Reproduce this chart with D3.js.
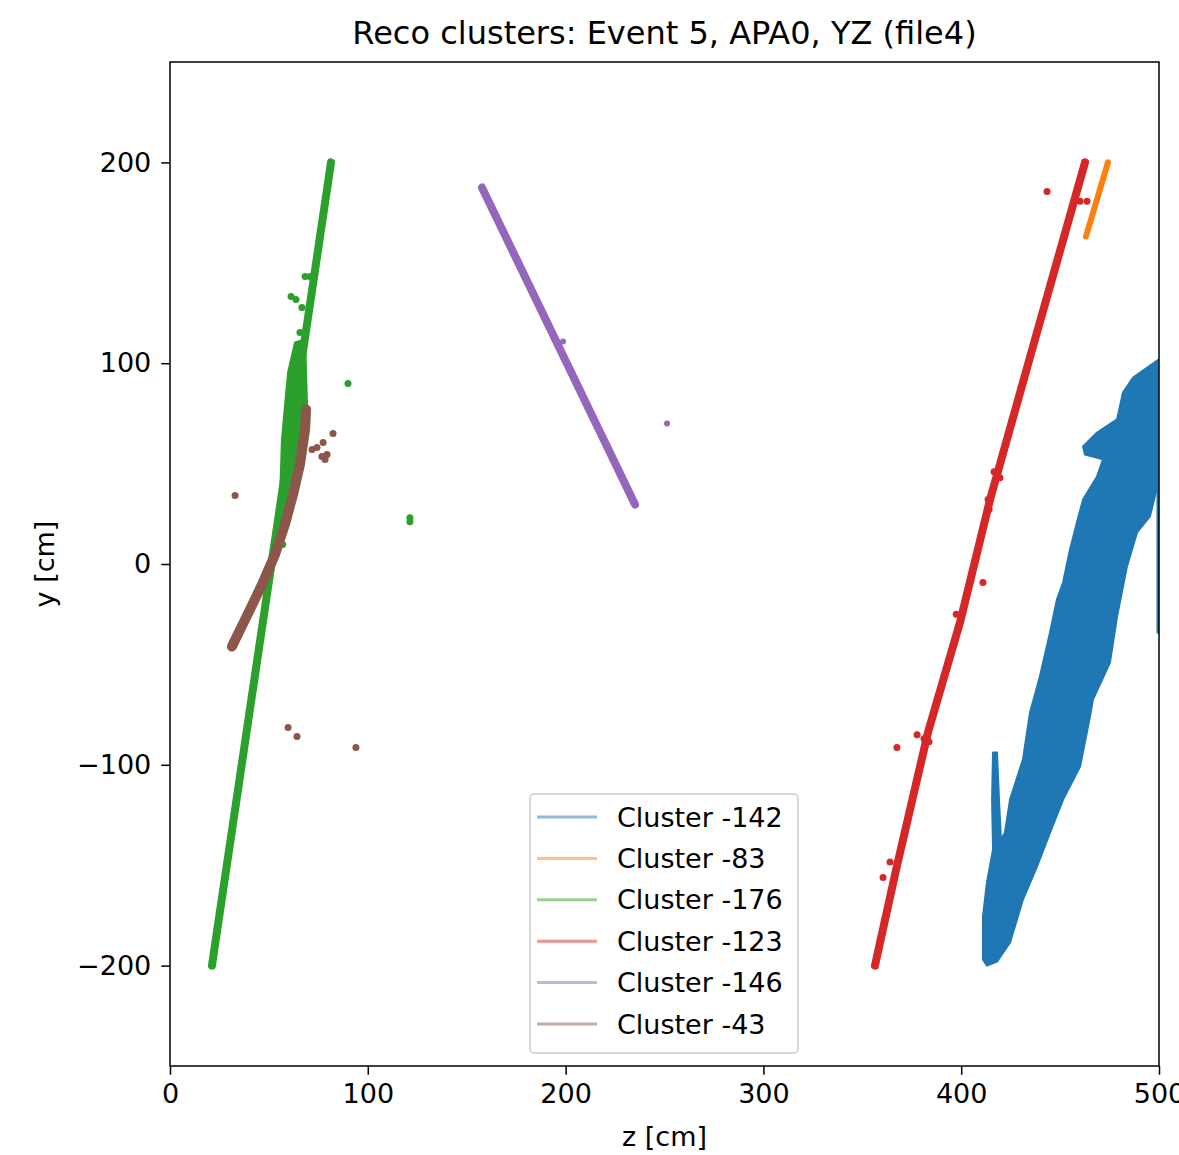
<!DOCTYPE html>
<html><head><meta charset="utf-8">
<script src="https://cdn.jsdelivr.net/npm/d3@7"></script>
<style>body{margin:0;background:#fff} text{font-family:"DejaVu Sans",sans-serif;fill:#000}</style>
</head><body><svg id="c" width="1179" height="1155"></svg>
<script>
const title = "Reco clusters: Event 5, APA0, YZ (file4)";
const xLabel = "z [cm]", yLabel = "y [cm]";
const clusterNames = ["Cluster -142","Cluster -83","Cluster -176","Cluster -123","Cluster -146","Cluster -43"];
const clusterColors = ["#1f77b4","#ff7f0e","#2ca02c","#d62728","#9467bd","#8c564b"];
const zTicks = [0,100,200,300,400,500];
const yTicks = [-200,-100,0,100,200];
const zDomain = [0,500], yDomain = [-250,250];

// Cluster -142 (blue shower) outline of hit region, [z, y]
const c142Outline = [[500,101.9],[500,42.1],[495.4,23.7],[488.9,15.7],[483.8,-1.2],[478.8,-26.2],[475.2,-49.1],
  [466.6,-67.5],[465.1,-76.0],[460.1,-100.9],[451.5,-117.3],[444.9,-133.8],[438.3,-150.7],[431.2,-167.1],
  [424.7,-188.5],[418.1,-198.0],[413.0,-200],[411.0,-197.0],[411.0,-175.6],[413.0,-158.7],[416.1,-142.2],
  [415.6,-117.3],[416.1,-93.9],[418.1,-93.9],[419.1,-117.3],[420.1,-137.2],[422.1,-133.8],[424.7,-117.3],
  [431.2,-97.4],[434.8,-73.9],[439.8,-56.0],[444.9,-34.1],[448.4,-17.7],[451.5,-9.2],[455.0,7.2],
  [458.5,20.7],[461.6,32.1],[468.7,43.6],[471.7,52.1],[462.6,54.5],[461.6,58.5],[468.7,65.5],
  [478.8,72.0],[481.8,85.4],[486.9,92.9]];
const c142Strip = [[499.5,40],[499.5,-34]];
// Cluster -83 (orange)
const c83Track = [[463.1,163.1],[474.2,200]];
// Cluster -176 (green)
const c176Track = [[21.2,-200],[81.4,200]];
const c176Blob = [[63.2,110.3],[68.3,111.8],[69.3,78.5],[67.2,62],[64.2,45.6],[60.7,32.1],[56.6,17.2],
  [53.6,9.7],[55.6,32.1],[56.6,62],[58.1,78.5],[59.7,95.4]];
const c176Hits = [[61.2,133.2],[63.7,131.7],[68.3,143.2],[70.8,143.2],[66.7,127.8],[65.7,115.3],
  [57.0,9.7],[90.0,89.9],[121.3,21.0],[121.3,23.0]];
// Cluster -123 (red)
const c123Track = [[356.4,-200],[367.5,-150.4],[383.2,-83.9],[399.4,-29.1],[414.6,32.1],[437.3,111.8],[462.6,200]];
const c123Hits = [[460.1,180.6],[463.6,180.6],[443.4,185.5],[416.6,46.0],[419.6,43.0],[413.6,32.1],
  [414.1,27.1],[411.0,-9.2],[397.5,-25.0],[398.5,-32.0],[377.7,-85.0],[381.2,-87.0],[383.7,-88.5],
  [367.5,-91.4],[364.0,-148.4],[367.5,-150.4],[360.5,-156.1]];
// Cluster -146 (purple)
const c146Track = [[157.7,187.5],[235.1,29.6]];
const c146Hits = [[198.7,110.8],[251.3,70.0]];
// Cluster -43 (brown)
const c43Track = [[31.3,-41.1],[40.4,-22.7],[46.5,-10.2],[53.1,4.7],[58.1,19.7],[62.2,34.6],[65.7,49.6],[68.3,67.0],[68.8,77.0]];
const c43Hits = [[32.9,34.1],[82.4,65.0],[71.8,57.0],[74.3,58.0],[77.4,60.5],[76.8,53.5],[79.4,54.5],
  [78.4,52.1],[59.7,-81.4],[64.2,-85.9],[94.0,-91.4]];

const svg = d3.select("#c");
const L = 170, R = 1159, T = 62, B = 1066;
const x = d3.scaleLinear().domain(zDomain).range([L, R]);
const y = d3.scaleLinear().domain(yDomain).range([B, T]);
const line = d3.line().x(d => x(d[0])).y(d => y(d[1]));

svg.append("defs").append("clipPath").attr("id","clip")
  .append("rect").attr("x",L).attr("y",T).attr("width",R-L).attr("height",B-T);
const g = svg.append("g").attr("clip-path","url(#clip)");

function track(pts, color, w) {
  g.append("path").attr("d", line(pts)).attr("fill","none").attr("stroke",color)
    .attr("stroke-width", w).attr("stroke-linecap","round").attr("stroke-linejoin","round");
}
function hits(pts, color, r) {
  g.selectAll(null).data(pts).enter().append("circle")
    .attr("cx", d => x(d[0])).attr("cy", d => y(d[1])).attr("r", r).attr("fill", color);
}
function blob(pts, color) {
  g.append("path").attr("d", line(pts) + "Z").attr("fill", color).attr("stroke", color)
    .attr("stroke-width", 2).attr("stroke-linejoin","round");
}

// draw order as in reference
blob(c142Outline, clusterColors[0]);
track(c142Strip, clusterColors[0], 3);
track(c83Track, clusterColors[1], 6);
track(c176Track, clusterColors[2], 8);
blob(c176Blob, clusterColors[2]);
hits(c176Hits, clusterColors[2], 3.5);
track(c123Track, clusterColors[3], 8);
hits(c123Hits, clusterColors[3], 3.5);
track(c146Track, clusterColors[4], 8);
hits(c146Hits, clusterColors[4], 3);
track(c43Track, clusterColors[5], 10);
hits(c43Hits, clusterColors[5], 3.5);

// axes
const xAxis = svg.append("g").attr("transform", `translate(0,${B})`)
  .call(d3.axisBottom(x).tickValues(zTicks).tickSizeOuter(0).tickSize(8.75).tickPadding(9));
const yAxis = svg.append("g").attr("transform", `translate(${L},0)`)
  .call(d3.axisLeft(y).tickValues(yTicks).tickSizeOuter(0).tickSize(8.75).tickPadding(10));
[xAxis, yAxis].forEach(a => {
  a.select(".domain").remove();
  a.selectAll(".tick line").attr("stroke","#000").attr("stroke-width",1.5);
  a.selectAll(".tick text").attr("font-size",27).attr("font-family","DejaVu Sans").attr("fill","#000");
});
// frame
svg.append("rect").attr("x",L).attr("y",T).attr("width",R-L).attr("height",B-T)
  .attr("fill","none").attr("stroke","#000").attr("stroke-width",1.5);

// titles
svg.append("text").attr("x",(L+R)/2).attr("y",44).attr("text-anchor","middle")
  .attr("font-size",32).text(title);
svg.append("text").attr("x",(L+R)/2).attr("y",1146).attr("text-anchor","middle")
  .attr("font-size",27).text(xLabel);
svg.append("text").attr("transform",`translate(54,${(T+B)/2}) rotate(-90)`).attr("text-anchor","middle")
  .attr("font-size",27).text(yLabel);

// legend
const lg = svg.append("g");
lg.append("rect").attr("x",530).attr("y",794).attr("width",268).attr("height",259).attr("rx",4)
  .attr("fill","#fff").attr("fill-opacity",0.8).attr("stroke","#cccccc").attr("stroke-width",1.5);
clusterNames.forEach((n, i) => {
  const cy = 817 + i * 41.4;
  lg.append("line").attr("x1",537).attr("x2",597).attr("y1",cy).attr("y2",cy)
    .attr("stroke",clusterColors[i]).attr("stroke-opacity",0.5).attr("stroke-width",3);
  lg.append("text").attr("x",617).attr("y",cy+9.5).attr("font-size",27).text(n);
});
</script></body></html>
